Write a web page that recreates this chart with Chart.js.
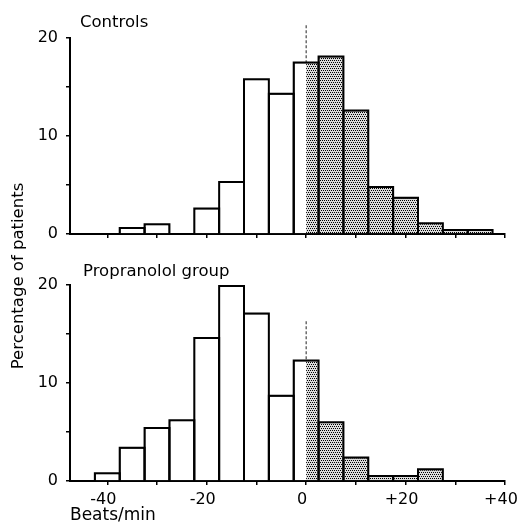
<!DOCTYPE html>
<html><head><meta charset="utf-8">
<script src="https://cdn.jsdelivr.net/npm/chart.js@4/dist/chart.umd.min.js"></script>
<style>
html,body{margin:0;padding:0;background:#fff;}
#wrap{position:relative;width:517px;height:526px;overflow:hidden;font-family:'DejaVu Sans',sans-serif;color:#000;}
canvas{position:absolute;left:0;}
.lbl{position:absolute;line-height:16px;white-space:nowrap;}
</style></head><body>
<div id="wrap">
<canvas id="c1" width="517" height="250" style="top:0"></canvas>
<canvas id="c2" width="517" height="276" style="top:250px"></canvas>
<div class="lbl" style="left:80px;top:14px;font-size:16.5px;">Controls</div>
<div class="lbl" style="left:83px;top:263px;font-size:16.5px;">Propranolol group</div>
<div class="lbl" style="left:-132px;top:268px;width:300px;text-align:center;font-size:16.5px;transform:rotate(-90deg);">Percentage of patients</div>
</div>
<script>
// ---- data ----
const binCenters = [-40, -35, -30, -25, -20, -15, -10, -5, 0, 5, 10, 15, 20, 25, 30, 35];
const binWidth = 5;
const controlsValues = [null, 0.6, 1.0, null, 2.6, 5.3, 15.8, 14.3, 17.5, 18.1, 12.6, 4.8, 3.7, 1.1, 0.4, 0.4];
const propranololValues = [0.8, 3.4, 5.4, 6.2, 14.6, 19.9, 17.1, 8.7, 12.3, 6.0, 2.4, 0.5, 0.5, 1.2, null, null];
const xTickValues = [-40, -30, -20, -10, 0, 10, 20, 30, 40];
const xTickLabels = {'-40': '-40', '-20': '-20', '0': '0', '20': '+20', '40': '+40'};
const yTickValues = [0, 5, 10, 15, 20];
const yTickLabels = {'0': '0', '10': '10', '20': '20'};
const controlsDashTop = 21.3;
const propranololDashTop = 16.3;

Chart.defaults.font.family = "'DejaVu Sans', sans-serif";
Chart.defaults.color = '#000';

function makePattern() {
  const c = document.createElement('canvas');
  c.width = 4; c.height = 4;
  const g = c.getContext('2d');
  g.fillStyle = 'rgba(0,0,0,0.14)';
  g.fillRect(0, 0, 4, 4);
  g.fillStyle = '#000';
  [[0,0],[2,0],[1,2],[3,2]].forEach(p => g.fillRect(p[0], p[1], 1, 1));
  return g.createPattern(c, 'repeat');
}
const BW = 1;       // library bar border (inside)
const EDGE = 2;     // outline stroke centred on bar edges

function makeChart(id, values, dashTop, showLabels, padTop, xAxisH) {
  const pts = binCenters.map((x, i) => ({x: x, y: values[i]})).filter(p => p.y !== null);
  const ctx = document.getElementById(id).getContext('2d');
  const pattern = makePattern();
  const overlay = {
    id: 'overlay',
    beforeDatasetsUpdate(chart) {
      const xs = chart.scales.x;
      const w = Math.abs(xs.getPixelForValue(binWidth) - xs.getPixelForValue(0));
      chart.data.datasets[0].barThickness = w;
    },
    beforeDatasetsDraw(chart) {
      const xs = chart.scales.x, ys = chart.scales.y, c = chart.ctx;
      const x0 = xs.getPixelForValue(0);
      c.save();
      c.strokeStyle = '#222'; c.lineWidth = 1; c.setLineDash([3, 2]);
      c.beginPath();
      c.moveTo(x0, ys.getPixelForValue(dashTop));
      c.lineTo(x0, ys.getPixelForValue(0));
      c.stroke();
      c.restore();
    },
    afterDatasetsDraw(chart) {
      const xs = chart.scales.x, c = chart.ctx;
      const x0 = xs.getPixelForValue(0);
      const meta = chart.getDatasetMeta(0);
      const bars = meta.data.map(bar => bar.getProps(['x', 'y', 'base', 'width'], true));
      c.save();
      c.fillStyle = pattern;
      bars.forEach(p => {
        const l = Math.max(p.x - p.width / 2 + EDGE / 2, x0);
        const r = p.x + p.width / 2 - EDGE / 2;
        const t = p.y + EDGE / 2, b = p.base;
        if (r > l && b > t) c.fillRect(l, t, r - l, b - t);
      });
      c.strokeStyle = '#000';
      c.lineWidth = EDGE;
      c.lineJoin = 'miter';
      bars.forEach(p => {
        const l = p.x - p.width / 2, r = p.x + p.width / 2;
        c.beginPath();
        c.moveTo(l, p.base);
        c.lineTo(l, p.y);
        c.lineTo(r, p.y);
        c.lineTo(r, p.base);
        c.stroke();
      });
      c.restore();
    }
  };
  return new Chart(ctx, {
    type: 'bar',
    data: {
      datasets: [{
        data: pts,
        backgroundColor: '#fff',
        borderColor: '#000',
        borderWidth: BW,
        categoryPercentage: 1,
        barPercentage: 1,
        grouped: false,
        inflateAmount: 0
      }]
    },
    options: {
      responsive: false,
      devicePixelRatio: 1,
      animation: false,
      events: [],
      datasets: {bar: {categoryPercentage: 1, barPercentage: 1}},
      layout: {padding: {top: padTop, right: 12, left: 0, bottom: 0}},
      plugins: {legend: {display: false}, tooltip: {enabled: false}},
      scales: {
        x: {
          type: 'linear',
          min: -47.5, max: 40,
          offset: false,
          grid: {offset: false, drawOnChartArea: false, drawTicks: true, tickLength: 4, color: '#000', lineWidth: 1.5},
          border: {display: true, color: '#000', width: 2},
          afterBuildTicks: (s) => { s.ticks = xTickValues.map(v => ({value: v})); },
          afterFit: (s) => { s.height = xAxisH; s.paddingLeft = 0; s.paddingRight = 0; },
          ticks: {
            autoSkip: false, maxRotation: 0, padding: 5, labelOffset: -4,
            font: {size: 16},
            callback: (v) => showLabels ? (xTickLabels[String(v)] || '') : ''
          },
          title: {display: showLabels, text: 'Beats/min', align: 'start', font: {size: 17}, padding: {top: 0, bottom: 0}}
        },
        y: {
          min: 0, max: 20,
          grid: {drawOnChartArea: false, drawTicks: true, tickLength: 4, color: '#000', lineWidth: 1.5},
          border: {display: true, color: '#000', width: 2},
          afterBuildTicks: (s) => { s.ticks = yTickValues.map(v => ({value: v})); },
          afterFit: (s) => { s.width = 70; s.paddingTop = 0; s.paddingBottom = 0; },
          ticks: {
            padding: 8, font: {size: 16},
            callback: (v) => yTickLabels[String(v)] || ''
          }
        }
      }
    },
    plugins: [overlay]
  });
}

makeChart('c1', controlsValues, controlsDashTop, false, 38, 16);
makeChart('c2', propranololValues, propranololDashTop, true, 35, 45);
</script>
</body></html>
